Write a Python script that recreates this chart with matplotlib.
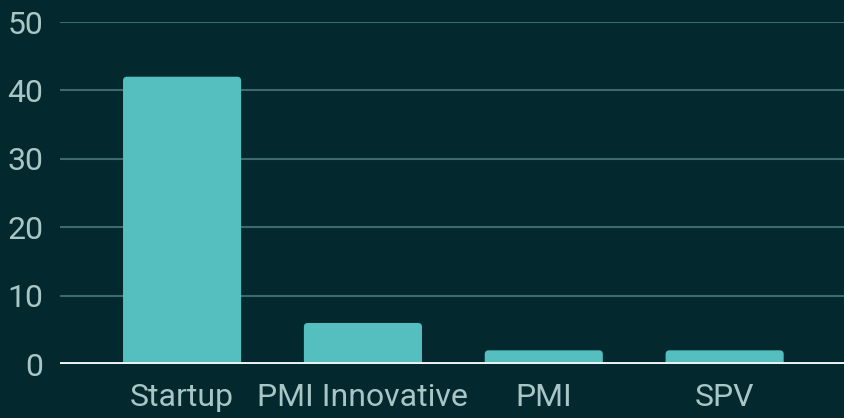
import matplotlib.pyplot as plt
from matplotlib.patches import FancyBboxPatch

categories = ["Startup", "PMI Innovative", "PMI", "SPV"]
values = [42, 6, 2, 2]
yticks = [0, 10, 20, 30, 40, 50]

BG = "#03292e"
BAR = "#55bfc0"
GRID = "#3c6a6d"
TXT = "#a9c6c6"

plt.rcParams["font.family"] = ["Roboto", "DejaVu Sans"]

fig = plt.figure(figsize=(8.44, 4.18), dpi=100, facecolor=BG)
ax = fig.add_axes([60 / 844, (418 - 364) / 418, 784 / 844, (364 - 22) / 418])
ax.set_facecolor(BG)

x = list(range(len(categories)))
bars = ax.bar(x, values, width=0.653, color=BAR, zorder=3)

# swap the plain rectangles for ones with slightly rounded tops
for rect in bars.patches:
    rect.set_visible(False)
    rb = FancyBboxPatch((rect.get_x(), -1), rect.get_width(), rect.get_height() + 1,
                        boxstyle="round,pad=0,rounding_size=0.022",
                        mutation_aspect=26, facecolor=BAR, edgecolor="none", zorder=3)
    ax.add_patch(rb)

ax.set_ylim(0, 50)
ax.set_xlim(-0.675, 3.66)
ax.set_yticks(yticks)
ax.set_xticks(x)
ax.set_xticklabels(categories)
ax.grid(axis="y", color=GRID, linewidth=1.5, zorder=0)
ax.axhline(0, color="#eef3f3", linewidth=2.8, zorder=4)

for s in ax.spines.values():
    s.set_visible(False)
ax.tick_params(length=0, labelsize=23, colors=TXT)
ax.tick_params(axis="y", pad=12)
ax.tick_params(axis="x", pad=14)
for lbl in ax.get_yticklabels():
    lbl.set_clip_on(False)

fig.savefig("out.png", dpi=100, facecolor=BG)
